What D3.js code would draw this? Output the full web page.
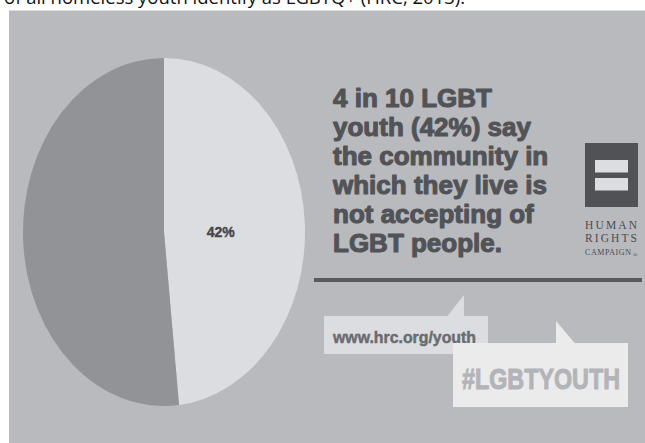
<!doctype html>
<html lang="en">
<head>
    <meta charset="utf-8">
    <title>4 in 10 LGBT youth</title>
    <script src="https://cdnjs.cloudflare.com/ajax/libs/d3/7.8.5/d3.min.js"></script>
    <style>
        body {
            margin: 0;
            background: #fff;
        }

        #chart text.heading {
            font: bold 26px "Liberation Sans", Arial, sans-serif;
            fill: #525357;
            stroke: #525357;
            stroke-width: 1.1px;
            stroke-linejoin: round;
        }

        #chart text.logo {
            font-family: "Liberation Serif", "Times New Roman", serif;
            fill: #4c4d51;
        }
    </style>
</head>
<body>
    <div id="chart"></div>
    <script>
        var width = 645;
        var height = 443;

        // pie slices as drawn (light slice first, clockwise from the top)
        var categories = ['Community not accepting', 'Other'];
        var values = [48.3, 51.7];
        var sliceLabels = ['42%', ''];
        var sliceColors = ['#dcdde0', '#929397'];

        var headingLines = [
            '4 in 10 LGBT',
            'youth (42%) say',
            'the community in',
            'which they live is',
            'not accepting of',
            'LGBT people.'
        ];
        var logoLines = ['HUMAN', 'RIGHTS', 'CAMPAIGN'];
        var caption = 'of all homeless youth identify as LGBTQ+ (HRC, 2013).';
        var url = 'www.hrc.org/youth';
        var hashtag = '#LGBTYOUTH';

        var svg = d3.select('#chart')
            .append('svg')
            .attr('width', width)
            .attr('height', height);

        // cut-off caption line above the graphic
        svg.append('text')
            .attr('x', 4)
            .attr('y', 4)
            .attr('font-family', '"Open Sans", sans-serif')
            .attr('font-size', 18.5)
            .attr('fill', '#111')
            .text(caption);

        svg.append('rect')
            .attr('x', 9)
            .attr('y', 10.5)
            .attr('width', width - 9)
            .attr('height', height - 10.5)
            .attr('fill', '#b9babe');

        // ---- pie (stretched into an ellipse) ----
        var cx = 164, cy = 232, rx = 141, ry = 174;
        var sx = rx / ry;

        var pie = d3.pie().sort(null).value(function(d){ return d; });
        var arc = d3.arc().innerRadius(0).outerRadius(ry);
        var labelArc = d3.arc().innerRadius(70).outerRadius(70);
        var arcs = pie(values);

        var pieG = svg.append('g')
            .attr('transform', 'translate(' + cx + ',' + cy + ') scale(' + sx + ',1)');

        pieG.selectAll('path')
            .data(arcs)
            .enter()
            .append('path')
            .attr('d', arc)
            .attr('fill', function(d, i){ return sliceColors[i]; })
            .append('title')
            .text(function(d, i){ return categories[i]; });

        svg.selectAll('text.slice')
            .data(arcs)
            .enter()
            .append('text')
            .attr('class', 'slice')
            .attr('x', function(d){ return cx + labelArc.centroid(d)[0] * sx; })
            .attr('y', cy + 5)
            .attr('text-anchor', 'middle')
            .attr('font-family', '"Liberation Sans", Arial, sans-serif')
            .attr('font-weight', 'bold')
            .attr('font-size', 14)
            .attr('fill', '#45474b')
            .attr('stroke', '#45474b')
            .attr('stroke-width', 0.4)
            .text(function(d, i){ return sliceLabels[i]; });

        // ---- heading ----
        svg.selectAll('text.heading')
            .data(headingLines)
            .enter()
            .append('text')
            .attr('class', 'heading')
            .attr('x', 333)
            .attr('y', function(d, i){ return 107 + i * 29; })
            .text(function(d){ return d; });

        svg.append('rect')
            .attr('x', 314)
            .attr('y', 278)
            .attr('width', 328)
            .attr('height', 4)
            .attr('fill', '#58595d');

        // ---- HRC logo ----
        svg.append('rect')
            .attr('x', 585).attr('y', 143)
            .attr('width', 53).attr('height', 64)
            .attr('fill', '#515256');
        [160, 178].forEach(function(y){
            svg.append('rect')
                .attr('x', 595).attr('y', y)
                .attr('width', 33).attr('height', 12.5)
                .attr('fill', '#dcdde0');
        });
        var logoY = [228.5, 242, 255];
        svg.selectAll('text.logo')
            .data(logoLines)
            .enter()
            .append('text')
            .attr('class', 'logo')
            .attr('x', 585)
            .attr('y', function(d, i){ return logoY[i]; })
            .attr('font-size', function(d, i){ return i < 2 ? 11.5 : 8; })
            .attr('textLength', function(d, i){ return i < 2 ? 52 : 46; })
            .attr('lengthAdjust', 'spacing')
            .text(function(d){ return d; });
        svg.append('text')
            .attr('class', 'logo')
            .attr('x', 633)
            .attr('y', 257)
            .attr('font-size', 6)
            .text('\u00ae');

        // ---- speech bubbles ----
        var line = d3.line();

        svg.append('rect')
            .attr('x', 324).attr('y', 316)
            .attr('width', 164).attr('height', 38)
            .attr('fill', '#dcdde0');
        svg.append('path')
            .attr('d', line([[447, 316.5], [464, 295], [464, 316.5]]) + 'Z')
            .attr('fill', '#dcdde0');
        svg.append('text')
            .attr('x', 333)
            .attr('y', 343)
            .attr('font-family', '"Liberation Sans", Arial, sans-serif')
            .attr('font-weight', 'bold')
            .attr('font-size', 17)
            .attr('textLength', 143)
            .attr('lengthAdjust', 'spacingAndGlyphs')
            .attr('fill', '#6b6c70')
            .attr('stroke', '#6b6c70')
            .attr('stroke-width', 0.5)
            .text(url);

        svg.append('rect')
            .attr('x', 453).attr('y', 343)
            .attr('width', 175).attr('height', 64)
            .attr('fill', '#ebebec');
        svg.append('path')
            .attr('d', line([[556, 321], [556, 343.5], [575, 343.5]]) + 'Z')
            .attr('fill', '#ebebec');
        svg.append('text')
            .attr('x', 462)
            .attr('y', 389)
            .attr('font-family', '"Liberation Sans", Arial, sans-serif')
            .attr('font-weight', 'bold')
            .attr('font-size', 30)
            .attr('textLength', 158)
            .attr('lengthAdjust', 'spacingAndGlyphs')
            .attr('fill', '#b3b4b8')
            .attr('stroke', '#b3b4b8')
            .attr('stroke-width', 1)
            .text(hashtag);
    </script>
</body>
</html>
